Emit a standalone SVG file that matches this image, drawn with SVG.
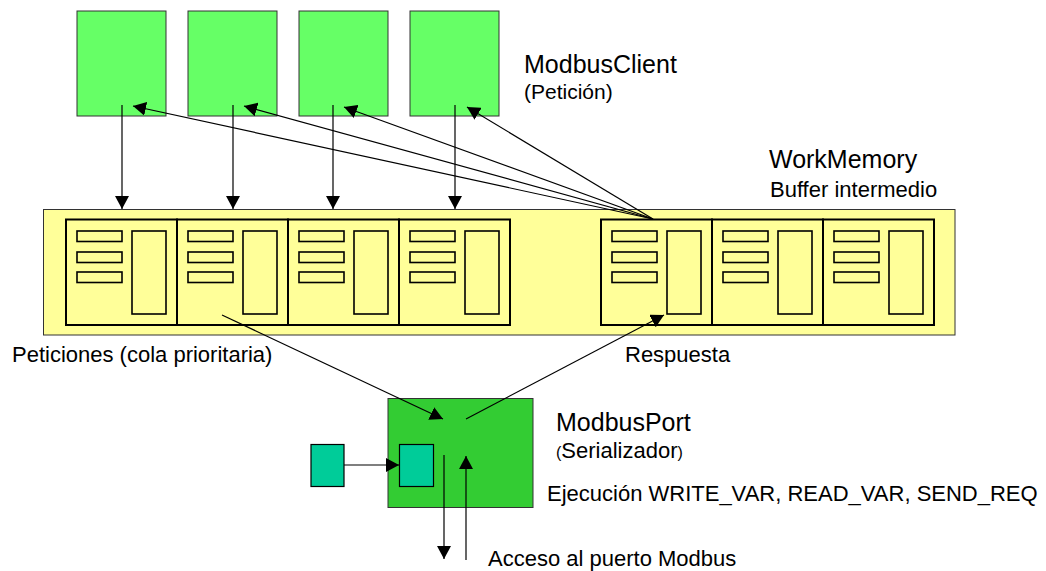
<svg xmlns="http://www.w3.org/2000/svg" width="1046" height="571" viewBox="0 0 1046 571">
<defs>
<style>
.client{fill:#66FF66;stroke:#333333;stroke-width:1}
.mem{fill:#FFFF99;stroke:#333333;stroke-width:1}
.cell{fill:#FFFF99;stroke:#000000;stroke-width:2}
.bar{fill:#FFFF99;stroke:#000000;stroke-width:1.6}
.port{fill:#33CC33;stroke:#333333;stroke-width:1}
.teal{fill:#00CC99;stroke:#000000;stroke-width:1.2}
.conn{stroke:#000000;stroke-width:1.2;fill:none}
.t{font-family:"Liberation Sans",Arial,sans-serif;fill:#000000}
</style>
<marker id="ah" viewBox="0 0 13 14" refX="13" refY="7" markerWidth="13" markerHeight="14" markerUnits="userSpaceOnUse" orient="auto">
<path d="M0,0 L13,7 L0,14 z" fill="#000000"/>
</marker>
<g id="cellShape">
<rect class="cell" x="0" y="0" width="111" height="105.5"/>
<rect class="bar" x="11" y="11.5" width="45" height="10.5"/>
<rect class="bar" x="11" y="32.5" width="45" height="10.5"/>
<rect class="bar" x="11" y="52.5" width="45" height="10.5"/>
<rect class="bar" x="66" y="11.5" width="34" height="83"/>
</g>
</defs>
<rect width="1046" height="571" fill="#FFFFFF"/>

<g id="client1"><rect class="client" x="77" y="11" width="89" height="105"/></g>
<g id="client2"><rect class="client" x="188" y="11" width="89" height="105"/></g>
<g id="client3"><rect class="client" x="299" y="11" width="89" height="105"/></g>
<g id="client4"><rect class="client" x="410" y="11" width="89" height="105"/></g>
<g id="clientLabel">
<text class="t" x="524" y="73" font-size="25">ModbusClient</text>
<text class="t" x="524" y="99" font-size="21">(Petición)</text>
</g>

<g id="workmemory">
<rect class="mem" x="43.5" y="209.5" width="911.5" height="125.5"/>
<use href="#cellShape" x="66" y="219.5"/>
<use href="#cellShape" x="177" y="219.5"/>
<use href="#cellShape" x="288" y="219.5"/>
<use href="#cellShape" x="399" y="219.5"/>
<use href="#cellShape" x="601" y="219.5"/>
<use href="#cellShape" x="712" y="219.5"/>
<use href="#cellShape" x="823" y="219.5"/>
<text class="t" x="769" y="168" font-size="25">WorkMemory</text>
<text class="t" x="770" y="197" font-size="22">Buffer intermedio</text>
</g>

<g id="modbusport">
<rect class="port" x="388" y="398.5" width="145" height="109"/>
<rect class="teal" x="399.5" y="444.5" width="34" height="42"/>
<text class="t" x="556" y="431" font-size="25">ModbusPort</text>
<text class="t" x="556" y="458" font-size="22"><tspan font-size="16">(</tspan>Serializador<tspan font-size="16">)</tspan></text>
<text class="t" x="547" y="501" font-size="22">Ejecución WRITE_VAR, READ_VAR, SEND_REQ</text>
</g>

<g id="source"><rect class="teal" x="311" y="444.5" width="33" height="42"/></g>

<g id="labels">
<text class="t" x="12" y="362" font-size="22">Peticiones (cola prioritaria)</text>
<text class="t" x="625" y="362" font-size="22">Respuesta</text>
<text class="t" x="488" y="566" font-size="22">Acceso al puerto Modbus</text>
</g>

<g id="connectors">
<line class="conn" x1="122" y1="105" x2="122" y2="209" marker-end="url(#ah)"/>
<line class="conn" x1="233" y1="105" x2="233" y2="209" marker-end="url(#ah)"/>
<line class="conn" x1="333" y1="105" x2="333" y2="209" marker-end="url(#ah)"/>
<line class="conn" x1="455" y1="105" x2="455" y2="209" marker-end="url(#ah)"/>
<line class="conn" x1="653" y1="219" x2="133" y2="106" marker-end="url(#ah)"/>
<line class="conn" x1="653" y1="219" x2="244" y2="106" marker-end="url(#ah)"/>
<line class="conn" x1="653" y1="219" x2="344" y2="107" marker-end="url(#ah)"/>
<line class="conn" x1="653" y1="219" x2="467" y2="107" marker-end="url(#ah)"/>
<line class="conn" x1="222" y1="315" x2="443" y2="419" marker-end="url(#ah)"/>
<line class="conn" x1="466" y1="419" x2="664" y2="315" marker-end="url(#ah)"/>
<line class="conn" x1="344" y1="465" x2="399" y2="465" marker-end="url(#ah)"/>
<line class="conn" x1="444" y1="455" x2="444" y2="559" marker-end="url(#ah)"/>
<line class="conn" x1="466" y1="560" x2="466" y2="456" marker-end="url(#ah)"/>
</g>
</svg>
